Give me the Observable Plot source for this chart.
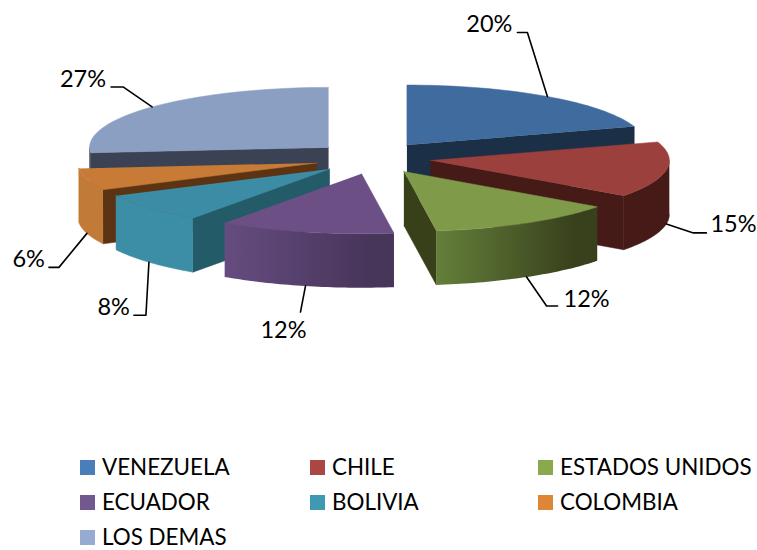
<!DOCTYPE html>
<html lang="es">
<head>
<meta charset="utf-8">
<script src="https://cdn.jsdelivr.net/npm/d3@7"></script>
<script src="https://cdn.jsdelivr.net/npm/@observablehq/plot@0.6"></script>
<style>
  html, body { margin: 0; padding: 0; background: #fff; width: 757px; height: 550px; overflow: hidden; }
  svg { display: block; }
  #legend {
    display: grid;
    grid-template-columns: 230px 228px auto;
    grid-auto-rows: 35px;
    margin: 9.5px 0 0 80px;
    font: 22.4px/20px Lato, sans-serif;
    color: #000;
  }
  #legend div { display: flex; align-items: center; white-space: nowrap; }
  #legend i { display: block; width: 15px; height: 15px; margin-right: 7px; }
</style>
</head>
<body>
<div id="chart"></div>
<div id="legend"></div>
<script>
// Origen de las importaciones, en porcentaje
const countries = ["VENEZUELA", "CHILE", "ESTADOS UNIDOS", "ECUADOR", "BOLIVIA", "COLOMBIA", "LOS DEMAS"];
const shares = [20, 15, 12, 12, 8, 6, 27];

// Colours per slice: legend swatch, top face, radial wall, rim
const swatchColors = ["#4a7ebb", "#aa4644", "#8aa84c", "#71588f", "#4099b2", "#de8536", "#96abd2"];
const topColors = ["#3f6b9f", "#9c403d", "#7f9b4a", "#6c4f85", "#3c8ca5", "#c87b36", "#8a9fc2"];
const wallColors = ["#1b2f47", "#451a17", "#384019", "#483659", "#245b69", "#5c3313", "#3b4253"];
const rimColors = ["#1b2f47", "#451a17", "url(#rimGreen)", "url(#rimPurple)", "#3c8ea6", "#c27a38", "#3b4253"];

// Painter's order: rear slices first
const drawOrder = [6, 0, 5, 1, 4, 2, 3];

// Pie layout
const W = 757, H = 440;
const cx = 372, cy = 157.5, rx = 239, ry = 60; // centre and radii, in pixels
const explodeX = 0.245, explodeY = 0.267, depth = 0.9; // in pie radii

// The tilted view widens the front of the pie slightly
const viewAngle = d3.scaleLinear([0, 126, 169, 263, 360], [0, 126, 172, 265, 360]);

// Leader elbows relative to the rim anchor and label placement, in pixels
const leaders = [
  {bend: [[-20, -64], [-30, -64]], text: [-5, -8], anchor: "end", rim: false},
  {bend: [[27, 9], [40, 9]], text: [4, -8], anchor: "start", rim: true},
  {bend: [[20, 29], [31, 29]], text: [6, -7], anchor: "start", rim: true},
  {bend: [[-5, 26]], text: [-17, 18], anchor: "middle", rim: true},
  {bend: [[-3, 53], [-15, 53]], text: [-4, -8], anchor: "end", rim: true},
  {bend: [[-28, 34], [-38, 34]], text: [-4, -8], anchor: "end", rim: true},
  {bend: [[-29, -20], [-41, -20]], text: [-5, -7], anchor: "end", rim: false}
];

const deg = Math.PI / 180;
const total = d3.sum(shares);
let running = 0;
const slices = shares.map((v, i) => {
  const start = running / total * 360;
  running += v;
  const end = running / total * 360;
  const mid = (start + end) / 2;
  return {
    i,
    a0: viewAngle(start),
    a1: viewAngle(end),
    mid: viewAngle(mid),
    ox: explodeX * Math.sin(mid * deg),
    oy: explodeY * Math.cos(mid * deg)
  };
});

// Points are in pie units: x to the right, y upwards, radius 1
const rimPoint = (s, a, z = 0) => ({
  x: s.ox + Math.sin(a * deg),
  y: s.oy + Math.cos(a * deg) - z
});
const apex = (s, z = 0) => ({x: s.ox, y: s.oy - z});
const arc = (s, from, to) => d3.range(0, 41).map(k => rimPoint(s, from + (to - from) * k / 40));

function topFace(s) {
  return [apex(s), ...arc(s, s.a0, s.a1)];
}
function radialWall(s, a) {
  return [apex(s), rimPoint(s, a), rimPoint(s, a, depth), apex(s, depth)];
}
function rimWall(s) {
  const from = Math.max(s.a0, 90), to = Math.min(s.a1, 270);
  if (from >= to) return null;
  const upper = arc(s, from, to);
  const lower = upper.map(p => ({x: p.x, y: p.y - depth})).reverse();
  return [...upper, ...lower];
}

const face = (points, fill) =>
  Plot.line(points, {x: "x", y: "y", fill, stroke: fill.startsWith("url") ? "none" : fill, strokeWidth: 0.5, curve: "linear"});

const faces = drawOrder.flatMap(i => {
  const s = slices[i];
  const marks = [];
  if (Math.sin(s.a0 * deg) < -1e-6) marks.push(face(radialWall(s, s.a0), wallColors[i]));
  if (Math.sin(s.a1 * deg) > 1e-6) marks.push(face(radialWall(s, s.a1), wallColors[i]));
  const rim = rimWall(s);
  if (rim) marks.push(face(rim, rimColors[i]));
  marks.push(face(topFace(s), topColors[i]));
  return marks;
});

// Leader lines start on the rim at each slice's mid angle
const labels = slices.map(s => {
  const L = leaders[s.i];
  const start = rimPoint(s, s.mid, L.rim ? depth : 0);
  const pts = [start, ...L.bend.map(([dx, dy]) => ({x: start.x + dx / rx, y: start.y - dy / ry}))];
  const end = pts[pts.length - 1];
  return {
    pts,
    x: end.x + L.text[0] / rx,
    y: end.y - L.text[1] / ry,
    anchor: L.anchor,
    text: `${shares[s.i]}%`
  };
});

const chart = Plot.plot({
  width: W,
  height: H,
  margin: 0,
  axis: null,
  x: {domain: [-cx / rx, (W - cx) / rx], range: [0, W]},
  y: {domain: [cy / ry, (cy - H) / ry], range: [0, H]},
  style: {background: "#fff", overflow: "visible"},
  marks: [
    ...faces,
    ...labels.map(l => Plot.line(l.pts, {x: "x", y: "y", stroke: "#000", strokeWidth: 1.6, curve: "linear"})),
    ...labels.map(l => Plot.text([l], {
      x: "x", y: "y", text: "text", textAnchor: l.anchor,
      fontFamily: "Lato", fontSize: 23.5, fill: "#000"
    }))
  ]
});

// Rim shading falls off from left to right
const defs = d3.select(chart).insert("defs", ":first-child");
[["rimGreen", "#647f3a", "#38411c"], ["rimPurple", "#664c80", "#47355a"]].forEach(([id, a, b]) => {
  const g = defs.append("linearGradient").attr("id", id);
  g.append("stop").attr("offset", "0%").attr("stop-color", a);
  g.append("stop").attr("offset", "85%").attr("stop-color", b);
});

document.getElementById("chart").append(chart);

d3.select("#legend").selectAll("div").data(countries).join("div")
  .html((d, i) => `<i style="background:${swatchColors[i]}"></i><span>${d}</span>`);
</script>
</body>
</html>
